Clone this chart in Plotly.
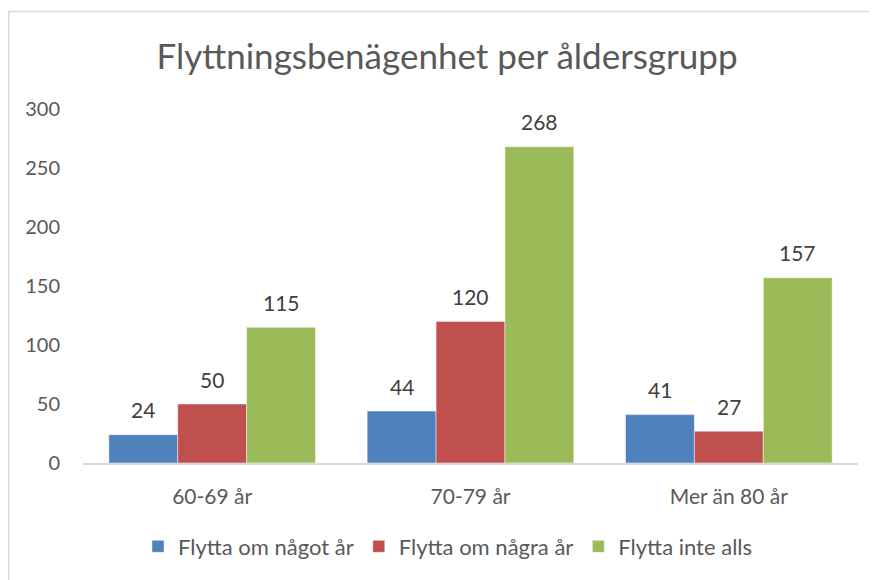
import plotly.graph_objects as go

categories = ["60-69 år", "70-79 år", "Mer än 80 år"]
series_names = ["Flytta om något år", "Flytta om några år", "Flytta inte alls"]
values_nagot = [24, 44, 41]
values_nagra = [50, 120, 27]
values_inte = [115, 268, 157]
colors = ["#4F81BD", "#C0504D", "#9BBB59"]
y_ticks = [0, 50, 100, 150, 200, 250, 300]

FONT = "Lato, Carlito, Calibri, sans-serif"
all_values = [values_nagot, values_nagra, values_inte]

# page has an 8px body margin; figure coordinates = page coordinates - 8
OFF = 8
W, H = 877 - OFF, 580 - OFF
PL, PR, PT, PB = 83 - OFF, 858 - OFF, 109 - OFF, 465 - OFF
PW, PH = PR - PL, PB - PT

fig = go.Figure()
for name, vals, col in zip(series_names, all_values, colors):
    fig.add_trace(go.Bar(
        x=categories, y=vals, name=name,
        marker=dict(color=col, line=dict(color="rgba(255,255,255,0.6)", width=0.8)),
    ))

# data labels
bar_px = 69
for i, vals in enumerate(all_values):
    for cat, v in zip(categories, vals):
        fig.add_annotation(
            x=cat, y=v, text=str(v), showarrow=False,
            xshift=(i - 1) * bar_px, yshift=25, yanchor="middle",
            font=dict(family=FONT, size=21, color="#404040"),
        )

# outer chart border
fig.add_shape(type="rect", xref="paper", yref="paper",
              x0=(0.75 - PL) / PW, x1=1.2, y0=-0.6, y1=(PB - (11 - OFF)) / PH,
              line=dict(color="#D9D9D9", width=1.5), fillcolor="rgba(0,0,0,0)", layer="below")

fig.update_layout(
    width=W, height=H,
    margin=dict(l=PL, r=W - PR, t=PT, b=H - PB),
    paper_bgcolor="white", plot_bgcolor="white",
    barmode="group", bargap=0.2, bargroupgap=0,
    title=dict(text="Flyttningsbenägenhet per åldersgrupp", x=(447 - OFF) / W, xanchor="center",
               y=1 - (57 - OFF) / H, yanchor="middle",
               font=dict(family=FONT, size=35, color="#595959")),
    font=dict(family=FONT, color="#595959"),
    showlegend=True,
    legend=dict(orientation="h", x=(448 - 83) / 775, xanchor="center",
                y=(PB - (549 - OFF)) / PH, yanchor="middle",
                font=dict(family=FONT, size=22, color="#595959"),
                itemwidth=30, tracegroupgap=0, traceorder="normal"),
    xaxis=dict(showgrid=False, showline=True, linecolor="#D9D9D9", linewidth=1.5,
               ticks="", tickfont=dict(family=FONT, size=21, color="#595959"),
               ticklabelstandoff=14),
    yaxis=dict(range=[0, 300], tickvals=y_ticks, showgrid=False, zeroline=False,
               showline=False, ticks="",
               tickfont=dict(family=FONT, size=20, color="#595959"),
               ticklabelstandoff=22),
)

fig.write_html("out.html")
